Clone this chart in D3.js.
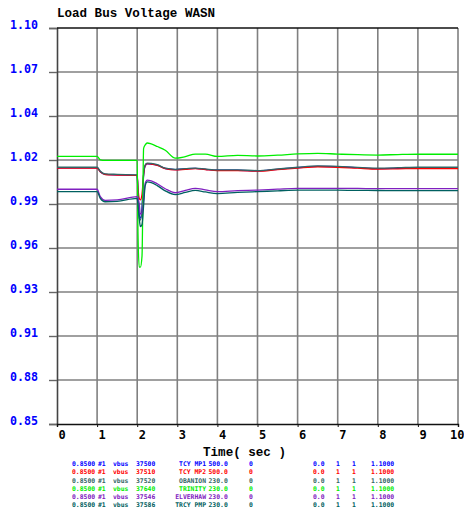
<!DOCTYPE html>
<html>
<head>
<meta charset="utf-8">
<script src="https://cdn.jsdelivr.net/npm/d3@7"></script>
<style>
  html, body { margin: 0; padding: 0; background: #ffffff; }
  svg { display: block; }
</style>
</head>
<body>
<svg id="chart" width="464" height="514"></svg>
<script>
// ---- Data ----------------------------------------------------------------
const chartTitle = "Load Bus Voltage WASN";
const xAxisTitle = "Time( sec )";

const xTicks = [0, 1, 2, 3, 4, 5, 6, 7, 8, 9, 10];
const yTickLabels = ["0.85", "0.88", "0.91", "0.93", "0.96", "0.99", "1.02", "1.04", "1.07", "1.10"];
const yMin = 0.85, yMax = 1.10;

// simulation time (s)
const timeSec = [0, 1.0, 1.08, 1.2, 1.5, 2.0, 2.02, 2.05, 2.08, 2.12, 2.16, 2.2, 2.25, 2.35, 2.5,
                 2.7, 2.95, 3.2, 3.45, 3.7, 4.0, 4.5, 5.0, 5.5, 6.0, 6.5, 7.0, 7.5, 8.0, 8.5, 9.0, 9.5, 10];

// bus voltages (pu)
const vTcyMp1 = [1.0117, 1.0117, 1.0093, 1.0076, 1.0073, 1.0070, 0.9960, 0.9820, 0.9800, 0.9860, 1.0070, 1.0130, 1.0143,
                 1.0141, 1.0134, 1.0113, 1.0106, 1.0110, 1.0114, 1.0108, 1.0102, 1.0102, 1.0098, 1.0108, 1.0118, 1.0126,
                 1.0124, 1.0118, 1.0112, 1.0114, 1.0117, 1.0117, 1.0117];
const vTcyMp2 = [1.0115, 1.0115, 1.0092, 1.0075, 1.0072, 1.0069, 0.9990, 0.9925, 0.9915, 0.9950, 1.0075, 1.0132, 1.0144,
                 1.0141, 1.0133, 1.0112, 1.0104, 1.0108, 1.0112, 1.0106, 1.0100, 1.0100, 1.0096, 1.0106, 1.0116, 1.0124,
                 1.0121, 1.0115, 1.0110, 1.0111, 1.0113, 1.0113, 1.0113];
const vObanion = [1.0121, 1.0121, 1.0096, 1.0079, 1.0076, 1.0073, 0.9950, 0.9800, 0.9788, 0.9850, 1.0080, 1.0136, 1.0147,
                  1.0145, 1.0137, 1.0115, 1.0108, 1.0112, 1.0116, 1.0110, 1.0104, 1.0104, 1.0100, 1.0110, 1.0121, 1.0129,
                  1.0126, 1.0120, 1.0116, 1.0118, 1.0121, 1.0121, 1.0121];
const vTrinity = [1.0190, 1.0190, 1.0168, 1.0164, 1.0164, 1.0164, 0.9700, 0.9491, 0.9491, 0.9560, 1.0240, 1.0262, 1.0274,
                  1.0268, 1.0252, 1.0228, 1.0178, 1.0188, 1.0204, 1.0204, 1.0189, 1.0196, 1.0192, 1.0197, 1.0205, 1.0209,
                  1.0204, 1.0200, 1.0198, 1.0201, 1.0203, 1.0203, 1.0203];
const vElverhaw = [0.9982, 0.9982, 0.9935, 0.9912, 0.9915, 0.9935, 0.9925, 0.9890, 0.9825, 0.9830, 0.9920, 1.0020, 1.0040,
                   1.0035, 1.0017, 0.9985, 0.9960, 0.9975, 0.9988, 0.9978, 0.9967, 0.9973, 0.9977, 0.9983, 0.9988, 0.9988,
                   0.9988, 0.9987, 0.9986, 0.9986, 0.9986, 0.9986, 0.9986];
const vTrcyPmp = [0.9967, 0.9967, 0.9925, 0.9903, 0.9906, 0.9925, 0.9880, 0.9800, 0.9746, 0.9760, 0.9880, 1.0005, 1.0028,
                  1.0024, 1.0005, 0.9972, 0.9948, 0.9962, 0.9975, 0.9965, 0.9955, 0.9962, 0.9967, 0.9972, 0.9977, 0.9977,
                  0.9976, 0.9975, 0.9974, 0.9973, 0.9973, 0.9973, 0.9973];

// legend columns
const seriesNames = ["TCY MP1", "TCY MP2", "OBANION", "TRINITY", "ELVERHAW", "TRCY PMP"];
const busNumbers = ["37500", "37510", "37520", "37640", "37546", "37586"];
const baseKv = ["500.0", "500.0", "230.0", "230.0", "230.0", "230.0"];
const seriesColors = ["#0000ff", "#ff0000", "#336666", "#00ee00", "#8020c0", "#006060"];
const seriesValues = [vTcyMp1, vTcyMp2, vObanion, vTrinity, vElverhaw, vTrcyPmp];

// ---- Layout --------------------------------------------------------------
const svg = d3.select("#chart");
const plot = { left: 57, right: 458, top: 28, bottom: 424 };
const monoFont = "'DejaVu Sans Mono', monospace";
const titleFont = "'Liberation Mono', 'DejaVu Sans Mono', monospace";

const x = d3.scaleLinear().domain([0, 10]).range([plot.left, plot.right]);
const y = d3.scaleLinear().domain([yMin, yMax]).range([plot.bottom, plot.top]);
const yTicks = yTickLabels.map((_, i) => yMin + i * (yMax - yMin) / (yTickLabels.length - 1));

// grid
const grid = svg.append("g");
grid.selectAll("line.v").data(xTicks.slice(1)).join("line")
  .attr("x1", d => x(d)).attr("x2", d => x(d))
  .attr("y1", plot.top).attr("y2", plot.bottom)
  .attr("stroke", "#808080").attr("stroke-width", 1.6);
grid.selectAll("line.h").data(yTicks.slice(1, -1)).join("line")
  .attr("x1", plot.left).attr("x2", plot.right)
  .attr("y1", d => y(d)).attr("y2", d => y(d))
  .attr("stroke", "#808080").attr("stroke-width", 1.6);

// y axis
const yAxis = svg.append("g")
  .attr("transform", `translate(${plot.left},0)`)
  .call(d3.axisLeft(y).tickValues(yTicks)
    .tickFormat((d, i) => yTickLabels[i]).tickSize(8).tickPadding(11));
yAxis.select(".domain").attr("stroke", "#444").attr("stroke-width", 1.6);
yAxis.selectAll(".tick line").attr("stroke", "#666").attr("stroke-width", 1.4);
yAxis.selectAll(".tick text")
  .attr("dy", 0).attr("fill", "#0000ff")
  .attr("font-family", monoFont).attr("font-weight", "bold").attr("font-size", 12.5)
  .attr("textLength", 28).attr("lengthAdjust", "spacingAndGlyphs");

// top border
svg.append("line")
  .attr("x1", plot.left).attr("x2", plot.right)
  .attr("y1", plot.top).attr("y2", plot.top)
  .attr("stroke", "#111").attr("stroke-width", 1.4);

// x axis
const xAxis = svg.append("g")
  .attr("transform", `translate(0,${plot.bottom})`)
  .call(d3.axisBottom(x).tickValues(xTicks).tickFormat(d3.format("d")).tickSize(3).tickPadding(5));
xAxis.select(".domain").attr("stroke", "#111").attr("stroke-width", 1.4);
xAxis.selectAll(".tick line").attr("stroke", "#111");
xAxis.selectAll(".tick text")
  .attr("fill", "#000").attr("font-family", monoFont).attr("font-weight", "bold").attr("font-size", 12)
  .attr("text-anchor", (d, i) => i === xTicks.length - 1 ? "end" : "start")
  .attr("x", (d, i) => i === xTicks.length - 1 ? 6 : 1)
  .attr("y", 15).attr("dy", 0);

svg.append("text")
  .attr("x", 203).attr("y", 455.5)
  .attr("font-family", titleFont).attr("font-weight", "bold").attr("font-size", 12.5)
  .attr("textLength", 83).attr("lengthAdjust", "spacingAndGlyphs")
  .attr("fill", "#000").text(xAxisTitle);

svg.append("text")
  .attr("x", 57).attr("y", 16.5)
  .attr("font-family", titleFont).attr("font-weight", "bold").attr("font-size", 13)
  .attr("textLength", 158).attr("lengthAdjust", "spacingAndGlyphs")
  .attr("fill", "#000").text(chartTitle);

// voltage traces
const line = d3.line()
  .x((d, i) => x(timeSec[i]))
  .y(d => y(d))
  .curve(d3.curveMonotoneX);

svg.append("g").selectAll("path").data(seriesValues).join("path")
  .attr("d", d => line(d))
  .attr("fill", "none")
  .attr("stroke", (d, i) => seriesColors[i])
  .attr("stroke-width", 1.3);

// legend table
const legend = svg.append("g")
  .attr("font-family", monoFont).attr("font-weight", "bold").attr("font-size", 6.4);
const rowY = i => 466 + i * 8.25;
seriesNames.forEach((name, i) => {
  const row = legend.append("g").attr("fill", seriesColors[i]);
  const cells = [
    [72, "start", "0.8500"], [98, "start", "#1"], [113, "start", "vbus"], [136, "start", busNumbers[i]],
    [206, "end", name], [208.5, "start", baseKv[i]], [249, "start", "0"],
    [313, "start", "0.0"], [336, "start", "1"], [352, "start", "1"], [371, "start", "1.1000"]
  ];
  cells.forEach(([cx, anchor, txt]) => {
    row.append("text").attr("x", cx).attr("y", rowY(i)).attr("text-anchor", anchor).text(txt);
  });
});
</script>
</body>
</html>
